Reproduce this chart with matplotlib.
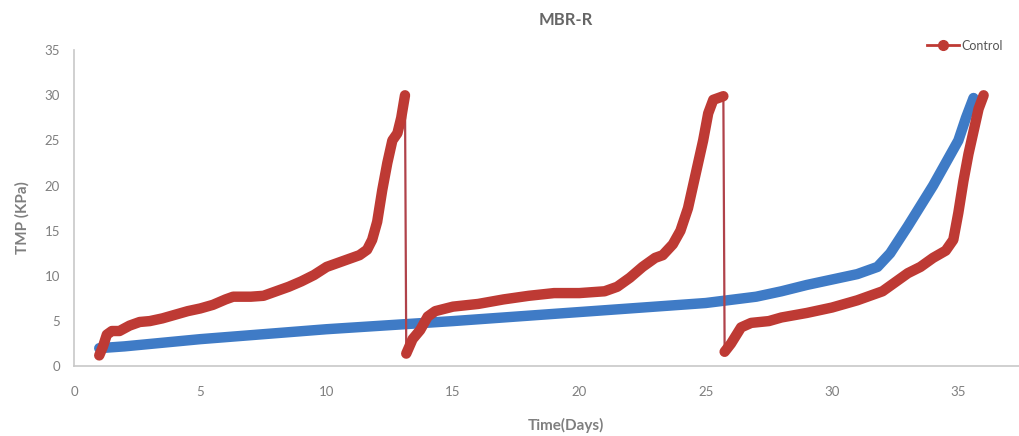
import matplotlib
matplotlib.use("Agg")
import matplotlib.pyplot as plt
from matplotlib.lines import Line2D

RED = "#be3a34"
BLUE = "#3f7bc6"
GREY = "#7f7f7f"

# control reactor, three filtration cycles (days, kPa)
red_days_1 = [1.0, 1.15, 1.3, 1.5, 1.8, 2.2, 2.6, 3.0, 3.5, 4.0, 4.5, 5.0, 5.5, 6.0, 6.3,
              7.0, 7.5, 8.0, 8.5, 9.0, 9.5, 10.0, 10.5, 11.0, 11.3, 11.6, 11.8, 12.0,
              12.2, 12.4, 12.6, 12.8, 12.95, 13.1]
red_tmp_1 = [1.2, 2.2, 3.5, 3.9, 3.9, 4.5, 4.9, 5.0, 5.3, 5.7, 6.1, 6.4, 6.8, 7.4, 7.7,
             7.7, 7.8, 8.3, 8.8, 9.4, 10.1, 11.0, 11.5, 12.0, 12.3, 12.9, 14.0, 16.0,
             19.5, 22.5, 25.0, 25.8, 27.5, 30.0]

red_days_2 = [13.15, 13.4, 13.7, 14.0, 14.3, 15.0, 16.0, 17.0, 18.0, 19.0, 20.0, 21.0,
              21.5, 22.0, 22.5, 23.0, 23.3, 23.7, 24.0, 24.3, 24.5, 24.7, 24.9, 25.1,
              25.3, 25.7]
red_tmp_2 = [1.4, 3.0, 4.0, 5.5, 6.1, 6.6, 6.9, 7.4, 7.8, 8.1, 8.1, 8.3, 8.8, 9.8, 11.0,
             12.0, 12.3, 13.5, 15.0, 17.5, 20.0, 22.5, 25.0, 28.0, 29.5, 29.9]

red_days_3 = [25.75, 26.0, 26.4, 26.8, 27.5, 28.0, 29.0, 30.0, 31.0, 32.0, 32.5, 33.0,
              33.5, 34.0, 34.5, 34.8, 35.0, 35.2, 35.4, 35.6, 35.8, 36.0]
red_tmp_3 = [1.6, 2.5, 4.3, 4.8, 5.0, 5.4, 5.9, 6.5, 7.3, 8.3, 9.3, 10.3, 11.0, 12.0,
             12.8, 14.0, 17.0, 20.5, 23.5, 26.0, 28.5, 30.0]

# second reactor, one long cycle
blue_days = [1.0, 2.0, 5.0, 10.0, 15.0, 20.0, 25.0, 27.0, 28.0, 29.0, 30.0, 31.0, 31.8,
             32.3, 33.0, 34.0, 34.5, 35.0, 35.3, 35.6]
blue_tmp = [2.0, 2.2, 3.0, 4.1, 5.0, 6.0, 7.0, 7.7, 8.3, 9.0, 9.6, 10.2, 11.0, 12.5,
            15.5, 20.0, 22.5, 25.0, 27.5, 29.7]

x_ticks = [0, 5, 10, 15, 20, 25, 30, 35]
y_ticks = [0, 5, 10, 15, 20, 25, 30, 35]

plt.rcParams["font.family"] = ["Lato", "DejaVu Sans"]

fig = plt.figure(figsize=(10.19, 4.36), dpi=100)
ax = fig.add_axes([0.0726, 0.16, 0.9274, 0.725])

ax.plot(blue_days, blue_tmp, color=BLUE, lw=7.5, solid_capstyle="round", zorder=2)

all_days = red_days_1 + red_days_2 + red_days_3
all_tmp = red_tmp_1 + red_tmp_2 + red_tmp_3
ax.plot(all_days, all_tmp, color="#b0424a", lw=1.6, zorder=3)
for d, t in [(red_days_1, red_tmp_1), (red_days_2, red_tmp_2), (red_days_3, red_tmp_3)]:
    ax.plot(d, t, color=RED, lw=7.5, solid_capstyle="round", solid_joinstyle="round", zorder=4)

ax.set_xlim(0, 37.4)
ax.set_ylim(0, 35)
ax.set_xticks(x_ticks)
ax.set_yticks(y_ticks)
ax.tick_params(length=0, labelsize=9.5, colors=GREY, pad=14)
ax.tick_params(axis="y", pad=10)
for side in ["top", "right"]:
    ax.spines[side].set_visible(False)
for side in ["left", "bottom"]:
    ax.spines[side].set_color("#c8c8c8")
    ax.spines[side].set_linewidth(1.2)

fig.text(0.555, 0.955, "MBR-R", ha="center", va="center", fontsize=12,
         fontweight="bold", color="#666666")
fig.text(0.555, 0.025, "Time(Days)", ha="center", va="center", fontsize=11,
         fontweight="bold", color=GREY)
fig.text(0.022, 0.5, "TMP (KPa)", ha="center", va="center", rotation=90,
         fontsize=11, fontweight="bold", color=GREY)

handle = Line2D([], [], color=RED, lw=2, marker="o", ms=7)
fig.legend([handle], ["Control"], loc="upper right", bbox_to_anchor=(0.995, 0.935),
           frameon=False, fontsize=9, handlelength=2.6, handletextpad=0.15,
           labelcolor="#555555")

fig.savefig("out.png", dpi=100)
